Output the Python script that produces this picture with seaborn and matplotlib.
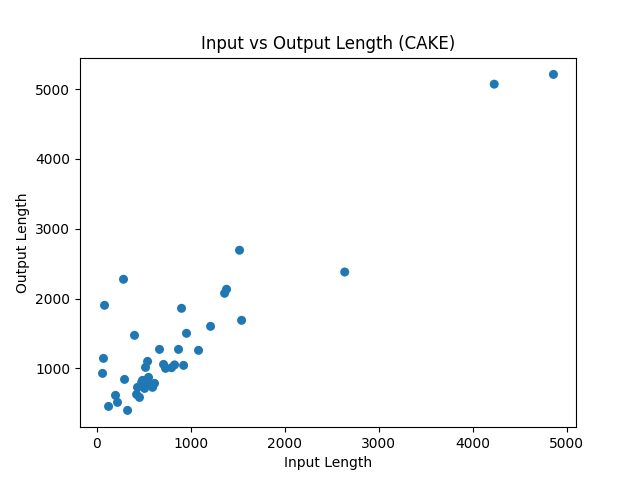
import matplotlib
matplotlib.use("Agg")
import matplotlib.pyplot as plt
import seaborn as sns

input_len = [1521, 287, 85, 904, 1383, 1362, 1543, 1213, 957, 404, 670, 872, 1085, 74, 64,
             543, 521, 713, 734, 830, 798, 926, 298, 553, 489, 617, 596, 436, 511, 426, 457,
             202, 223, 128, 330, 2640, 4230, 4860, 560, 480]
output_len = [2692, 2276, 1903, 1860, 2133, 2075, 1688, 1602, 1502, 1473, 1272, 1272, 1258, 1143, 928,
              1100, 1014, 1057, 1000, 1050, 1010, 1043, 842, 871, 828, 785, 728, 728, 713, 627, 584,
              613, 513, 455, 398, 2380, 5070, 5210, 760, 800]

fig, ax = plt.subplots(figsize=(6.4, 4.8), dpi=100)
sns.scatterplot(x=input_len, y=output_len, ax=ax, color="#1f77b4", s=42, edgecolor="none", linewidth=0)
ax.set_title("Input vs Output Length (CAKE)")
ax.set_xlabel("Input Length")
ax.set_ylabel("Output Length")
ax.set_xticks([0, 1000, 2000, 3000, 4000, 5000])
fig.savefig("out.png")
